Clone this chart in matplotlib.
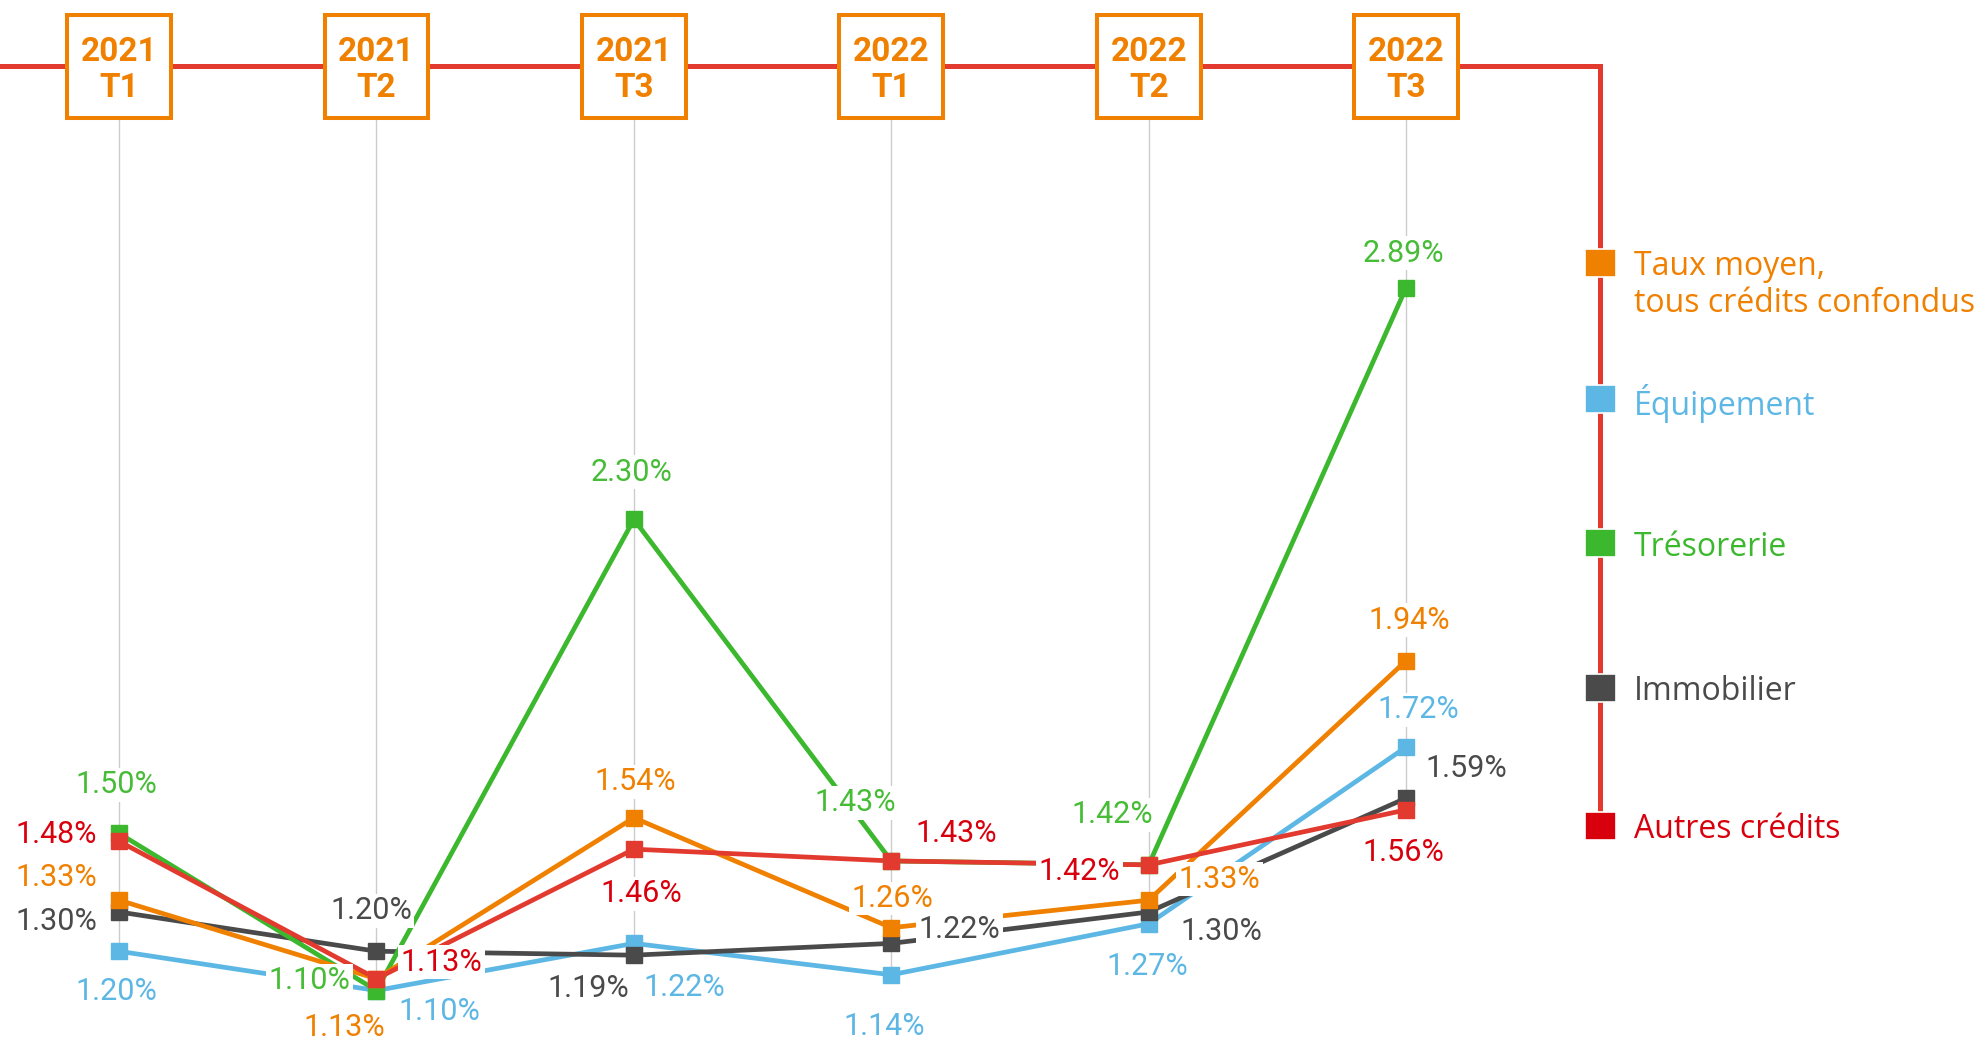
import numpy as np
import matplotlib
matplotlib.use("Agg")
import matplotlib.pyplot as plt
from matplotlib.patches import Rectangle

# data
quarters = ["2021\nT1", "2021\nT2", "2021\nT3", "2022\nT1", "2022\nT2", "2022\nT3"]
taux_moyen = [1.33, 1.13, 1.54, 1.26, 1.33, 1.94]
equipement = [1.20, 1.10, 1.22, 1.14, 1.27, 1.72]
tresorerie = [1.50, 1.10, 2.30, 1.43, 1.42, 2.89]
immobilier = [1.30, 1.20, 1.19, 1.22, 1.30, 1.59]
autres = [1.48, 1.13, 1.46, 1.43, 1.42, 1.56]
legend_labels = ["Taux moyen,\ntous crédits confondus", "Équipement",
                 "Trésorerie", "Immobilier", "Autres crédits"]

ORANGE = "#F08000"
BLUE = "#5DB7E4"
GREEN = "#3CB82E"
DARK = "#4A4A4A"
RED_LINE = "#E23A2E"
RED_TXT = "#D9000D"

# label offsets in points (dx, dy) per column
offs = {
    "taux": [(-45, 16), (-23, -35), (1, 26), (1, 21), (51, 15), (2, 29)],
    "equip": [(-2, -29), (45, -15), (36, -32), (-5, -37), (-1, -31), (9, 27)],
    "treso": [(-2, 35), (-48, 7), (-2, 34), (-26, 42), (-26, 36), (-2, 25)],
    "immo": [(-45, -7), (-4, 29), (-33, -24), (49, 10), (52, -14), (43, 21)],
    "autres": [(-45, 5), (47, 12), (5, -32), (47, 20), (-50, -5), (-2, -31)],
}

# drawing order: bottom -> top
series = [
    ("equip", equipement, BLUE, BLUE),
    ("immo", immobilier, DARK, DARK),
    ("treso", tresorerie, GREEN, "#46BC37"),
    ("taux", taux_moyen, ORANGE, ORANGE),
    ("autres", autres, RED_LINE, RED_TXT),
]

W, H = 1986, 1043
fig = plt.figure(figsize=(W / 100, H / 100), dpi=100)
ax = fig.add_axes([0, 0, 1, 1])
ax.set_axis_off()

x = np.arange(len(quarters))
step = 257.4
x0 = 119.1
ax.set_xlim(-x0 / step, (W - x0) / step)
ppu = 392.6
ax.set_ylim(1.10 - (H - 990.5) / ppu, 1.10 + 990.5 / ppu)

label_font = ["Liberation Sans Narrow", "Roboto", "DejaVu Sans"]

def fy(py):
    return 1 - py / H

# gray vertical guides from header box to lowest point
ylo, yhi = ax.get_ylim()
box_bottom = ylo + fy(118) * (yhi - ylo)
all_vals = np.array([taux_moyen, equipement, tresorerie, immobilier, autres])
ax.vlines(x, all_vals.min(axis=0), box_bottom, color="#CCCCCC", lw=1, zorder=1)

# timeline
tl_y = fy(66)
ax.plot([0, 1600 / W], [tl_y, tl_y], color=RED_LINE, lw=3.6,
        transform=ax.transAxes, solid_capstyle="projecting", zorder=2)
ax.plot([1600 / W, 1600 / W], [tl_y, fy(826)], color=RED_LINE, lw=3.6,
        transform=ax.transAxes, solid_capstyle="projecting", zorder=2)

# header boxes
trans = ax.get_xaxis_transform()
for i, q in enumerate(quarters):
    ax.add_patch(Rectangle((i - 0.202, fy(118)), 0.404, 103 / H, transform=trans,
                           facecolor="white", edgecolor=ORANGE, lw=2.9, zorder=5))
    ax.text(i, fy(70), q, transform=trans, ha="center", va="center",
            fontsize=24, fontweight="bold", color=ORANGE, family=label_font,
            linespacing=1.15, zorder=6)

# lines
for key, vals, lc, tc in series:
    ax.plot(x, vals, color=lc, lw=3.4, zorder=2, solid_joinstyle="miter")

# value labels
for key, vals, lc, tc in series:
    for i, v in enumerate(vals):
        dx, dy = offs[key][i]
        ax.annotate(f"{v:.2f}%", (i, v), xytext=(dx, dy), textcoords="offset points",
                    ha="center", va="center", fontsize=22, color=tc, family=label_font,
                    bbox=dict(boxstyle="square,pad=0.08", fc="white", ec="none"),
                    zorder=3)

# markers on top
for key, vals, lc, tc in series:
    ax.plot(x, vals, ls="none", marker="s", ms=12, color=lc, mec=lc, zorder=4)

# legend
leg_colors = [ORANGE, BLUE, GREEN, DARK, RED_TXT]
leg_y = [263, 399, 543, 688, 826]
for lab, c, py in zip(legend_labels, leg_colors, leg_y):
    ax.add_patch(Rectangle((1585 / W, fy(py + 14)), 31 / W, 28 / H, transform=ax.transAxes,
                           facecolor=c, edgecolor="white", lw=1.2, zorder=5))
    if "\n" in lab:
        ax.text(1634 / W, fy(py - 13), lab, transform=ax.transAxes, ha="left", va="top",
                fontsize=23, color=c, family=["Open Sans", "DejaVu Sans"],
                linespacing=1.15, zorder=5)
    else:
        ax.text(1634 / W, fy(py + 4), lab, transform=ax.transAxes, ha="left", va="center",
                fontsize=23, color=c, family=["Open Sans", "DejaVu Sans"], zorder=5)

fig.savefig("out.png", dpi=100, facecolor="white")
